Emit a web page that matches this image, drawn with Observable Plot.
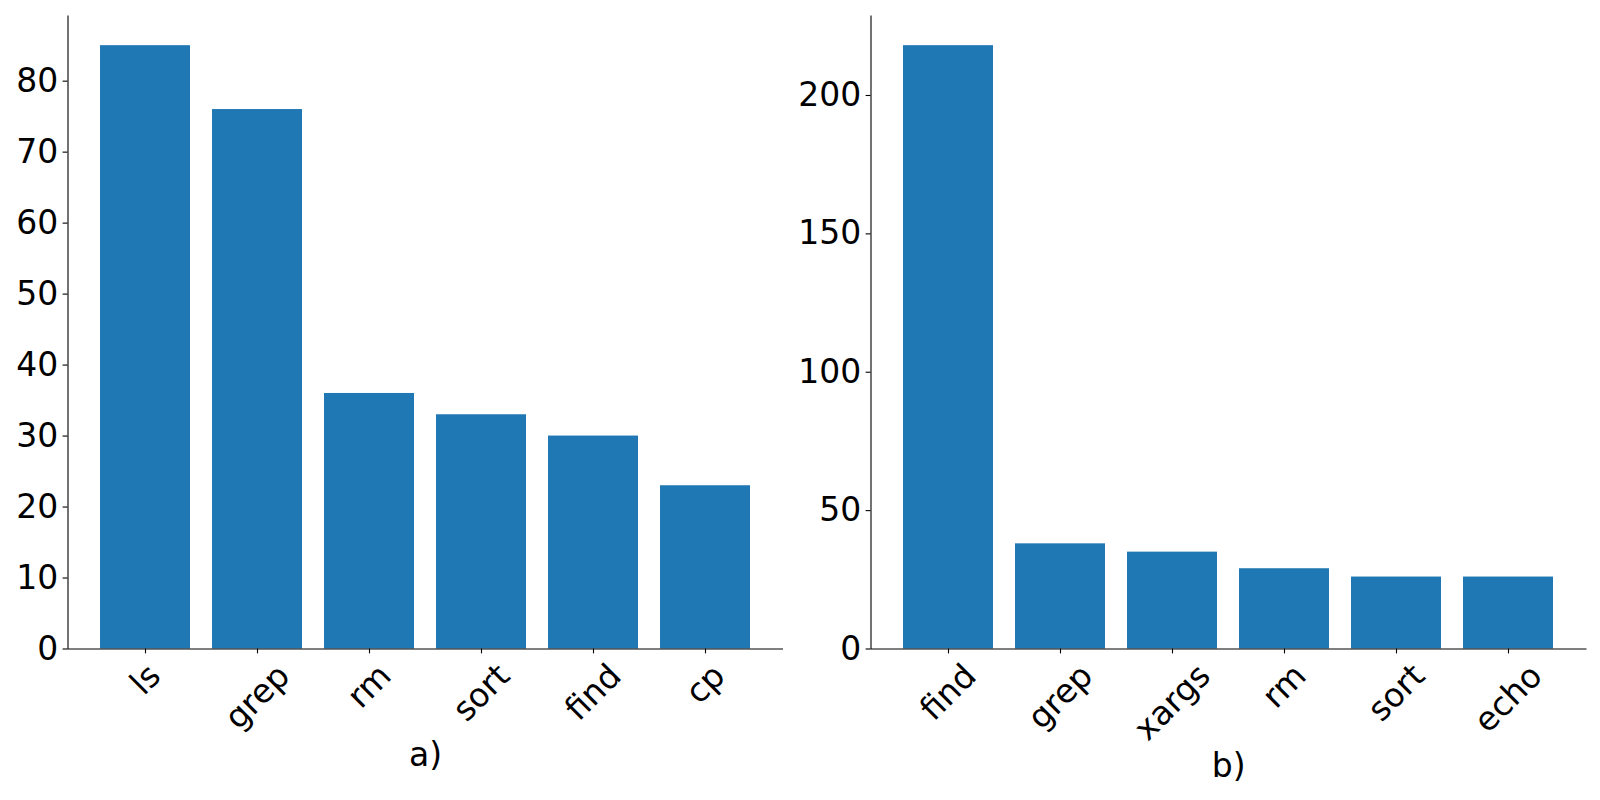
<!DOCTYPE html>
<html>
<head>
<meta charset="utf-8">
<script src="https://cdn.jsdelivr.net/npm/d3@7"></script>
<script src="https://cdn.jsdelivr.net/npm/@observablehq/plot@0.6"></script>
<style>
  html, body { margin: 0; padding: 0; background: #fff; }
  #wrap { display: flex; width: 1600px; height: 800px; }
  #wrap svg { overflow: visible; }
</style>
</head>
<body>
<div id="wrap"></div>
<script>
// ---- data ----
const catsA = ["ls", "grep", "rm", "sort", "find", "cp"];
const valsA = [85, 76, 36, 33, 30, 23];
const ticksA = [0, 10, 20, 30, 40, 50, 60, 70, 80];
const labelA = "a)";

const catsB = ["find", "grep", "xargs", "rm", "sort", "echo"];
const valsB = [218, 38, 35, 29, 26, 26];
const ticksB = [0, 50, 100, 150, 200];
const labelB = "b)";

// ---- layout helpers ----
const FONT = 33;
const FAMILY = "DejaVu Sans";
const ctx = document.createElement("canvas").getContext("2d");
ctx.font = `${FONT}px "${FAMILY}"`;
const textW = s => ctx.measureText(s).width;
const H = FONT * 0.996;           // text layout height
const TICK = 4.9, PAD = 4.9;
const W = 800, HT = 800;

function panel(cats, vals, ticks, label, m) {
  const data = cats.map((c, i) => ({cmd: c, count: vals[i]}));
  const ymax = d3.max(vals) * 1.05;
  const fw = W - m.marginLeft - m.marginRight;
  const fh = HT - m.marginTop - m.marginBottom;
  const labelMarks = cats.map(c => {
    const half = (textW(c) + H) / (2 * Math.SQRT2);
    return Plot.text([c], {
      x: d => d, frameAnchor: "bottom", dy: TICK + PAD + half,
      rotate: -45, textAnchor: "middle", lineAnchor: "middle",
      fontSize: FONT, fill: "black"
    });
  });
  const maxBottom = d3.max(cats, c => (textW(c) + H) / Math.SQRT2) + TICK + PAD;
  const baseline = maxBottom + 5.6 + 0.76 * FONT;
  const svg = Plot.plot({
    width: W,
    height: HT,
    ...m,
    style: {fontFamily: FAMILY, fontSize: FONT + "px", color: "black", background: "white", overflow: "visible"},
    x: {type: "band", domain: cats, paddingInner: 0.2, paddingOuter: 0.29, align: 0.5},
    y: {domain: [0, ymax]},
    marks: [
      Plot.barY(data, {x: "cmd", y: "count", fill: "#1f77b4"}),
      // left + bottom spines only (top/right sides dashed away)
      Plot.frame({stroke: "black", strokeWidth: 1.1, strokeDasharray: `0 ${fw + fh} ${fw + fh}`}),
      Plot.axisY({ticks: ticks, tickSize: TICK, tickPadding: PAD, label: null, strokeWidth: 1.1, fontSize: FONT}),
      Plot.axisX({tickSize: TICK, tickFormat: () => "", label: null, strokeWidth: 1.1}),
      ...labelMarks,
      Plot.text([label], {frameAnchor: "bottom", dy: baseline - 0.32 * FONT, lineAnchor: "middle", textAnchor: "middle", fontSize: FONT, fill: "black"})
    ]
  });
  return svg;
}

const wrap = document.getElementById("wrap");
wrap.appendChild(panel(catsA, valsA, ticksA, labelA,
  {marginLeft: 67.5, marginRight: 17.5, marginTop: 15, marginBottom: 151.5}));
wrap.appendChild(panel(catsB, valsB, ticksB, labelB,
  {marginLeft: 70.5, marginRight: 14, marginTop: 15, marginBottom: 151.5}));
</script>
</body>
</html>
